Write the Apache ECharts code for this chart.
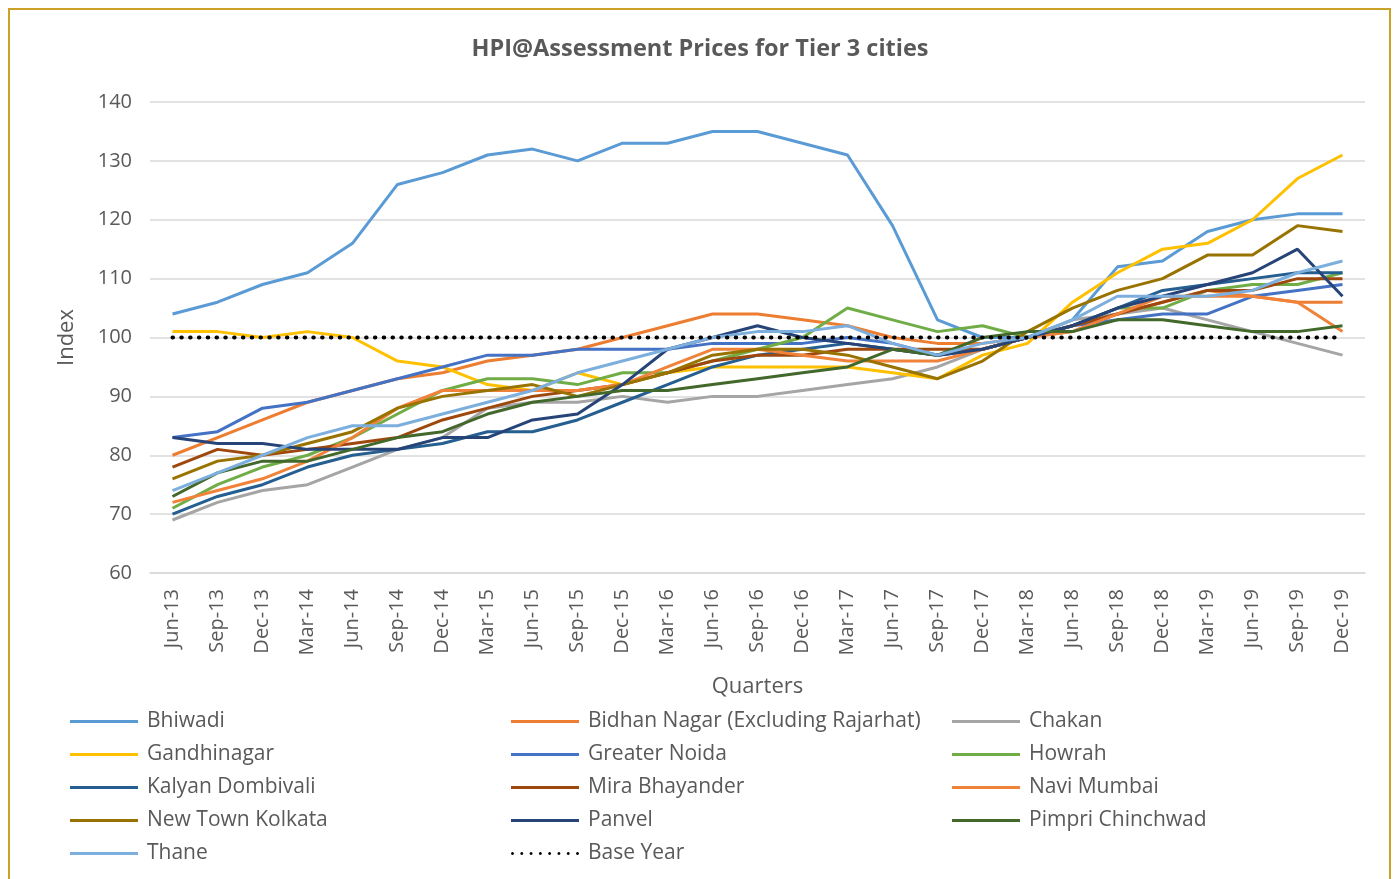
<!DOCTYPE html>
<html>
<head>
<meta charset="utf-8">
<title>HPI@Assessment Prices for Tier 3 cities</title>
<script src="https://cdn.jsdelivr.net/npm/echarts@6/dist/echarts.min.js"></script>
<style>
  html, body { margin: 0; padding: 0; background: #fff; }
  #frame { position: absolute; left: 8px; top: 8px; width: 1383px; height: 880px; border: 2px solid #C9A227; box-sizing: border-box; }
  #hpi { position: absolute; left: 0; top: 0; width: 1400px; height: 879px; }
</style>
</head>
<body>
<div id="frame"></div>
<div id="hpi"></div>
<script>
// quarters on the x axis
var quarters = ['Jun-13','Sep-13','Dec-13','Mar-14','Jun-14','Sep-14','Dec-14','Mar-15','Jun-15','Sep-15',
    'Dec-15','Mar-16','Jun-16','Sep-16','Dec-16','Mar-17','Jun-17','Sep-17','Dec-17','Mar-18',
    'Jun-18','Sep-18','Dec-18','Mar-19','Jun-19','Sep-19','Dec-19'];

// index values
var bhiwadi      = [104,106,109,111,116,126,128,131,132,130,133,133,135,135,133,131,119,103,100,100,103,112,113,118,120,121,121];
var bidhanNagar  = [80,83,86,89,91,93,94,96,97,98,100,102,104,104,103,102,100,99,99,100,101,104,106,108,107,106,106];
var chakan       = [69,72,74,75,78,81,83,88,89,89,90,89,90,90,91,92,93,95,98,100,103,104,105,103,101,99,97];
var gandhinagar  = [101,101,100,101,100,96,95,92,91,94,92,94,95,95,95,95,94,93,97,99,106,111,115,116,120,127,131];
var greaterNoida = [83,84,88,89,91,93,95,97,97,98,98,98,99,99,99,100,99,97,98,100,102,103,104,104,107,108,109];
var howrah       = [71,75,78,80,83,87,91,93,93,92,94,94,96,98,100,105,103,101,102,100,102,105,105,108,109,109,111];
var kalyan       = [70,73,75,78,80,81,82,84,84,86,89,92,95,97,98,99,98,97,98,100,102,105,108,109,110,111,111];
var miraBhayander= [78,81,80,81,82,83,86,88,90,91,92,94,96,97,97,98,98,98,98,100,102,104,106,108,108,110,110];
var naviMumbai   = [72,74,76,79,83,88,91,91,91,91,92,95,98,98,97,96,96,96,98,100,101,104,107,107,107,106,101];
var newTown      = [76,79,80,82,84,88,90,91,92,90,92,94,97,98,98,97,95,93,96,101,105,108,110,114,114,119,118];
var panvel       = [83,82,82,81,81,81,83,83,86,87,92,98,100,102,100,99,98,97,98,100,102,105,107,109,111,115,107];
var pimpri       = [73,77,79,79,81,83,84,87,89,90,91,91,92,93,94,95,98,97,100,101,101,103,103,102,101,101,102];
var thane        = [74,77,80,83,85,85,87,89,91,94,96,98,100,101,101,102,99,97,99,100,103,107,107,107,108,111,113];
var baseYear     = [100,100,100,100,100,100,100,100,100,100,100,100,100,100,100,100,100,100,100,100,100,100,100,100,100,100,100];

var myChart = echarts.init(document.getElementById('hpi'));

function city(name, data, color) {
    return {
        name: name,
        type: 'line',
        data: data,
        symbol: 'none',
        color: color,
        lineStyle: { width: 3, color: color }
    };
}

// legend icons: a plain bar for cities, a row of dots for the base year
var barIcon = 'path://M0,0h68v3h-68z';
var dotIcon = 'path://M0,1.5a1.5,1.5 0 1,0 3,0a1.5,1.5 0 1,0 -3,0';
for (var d = 1; d < 8; d++) {
    dotIcon += 'M' + (d * 9.3) + ',1.5a1.5,1.5 0 1,0 3,0a1.5,1.5 0 1,0 -3,0';
}

var legendText = { color: '#595959', fontSize: 21, fontFamily: 'Open Sans', lineHeight: 21, padding: [0, 0, 0, 4] };
function legendCol(left, names) {
    return {
        orient: 'vertical',
        left: left,
        top: 711,
        padding: 0,
        itemWidth: 68,
        itemHeight: 12,
        itemGap: 12,
        textStyle: legendText,
        data: names.map(function (n) {
            return { name: n, icon: n === 'Base Year' ? dotIcon : barIcon };
        })
    };
}

var option = {
    animation: false,
    backgroundColor: 'transparent',
    title: {
        text: 'HPI@Assessment Prices for Tier 3 cities',
        left: 'center',
        top: 32,
        textStyle: { color: '#595959', fontSize: 23.5, fontWeight: 'bold', fontFamily: 'Open Sans' }
    },
    legend: [
        legendCol(70, ['Bhiwadi', 'Gandhinagar', 'Kalyan Dombivali', 'New Town Kolkata', 'Thane']),
        legendCol(511, ['Bidhan Nagar (Excluding Rajarhat)', 'Greater Noida', 'Mira Bhayander', 'Panvel', 'Base Year']),
        legendCol(952, ['Chakan', 'Howrah', 'Navi Mumbai', 'Pimpri Chinchwad'])
    ],
    grid: { left: 150, right: 35, top: 102, bottom: 306 },
    xAxis: {
        type: 'category',
        data: quarters,
        boundaryGap: true,
        name: 'Quarters',
        nameLocation: 'middle',
        nameGap: 103,
        nameTextStyle: { color: '#595959', fontSize: 22, fontFamily: 'Open Sans' },
        axisLine: { lineStyle: { color: '#D9D9D9', width: 1.5 } },
        axisTick: { show: false },
        axisLabel: { rotate: 90, color: '#595959', fontSize: 20, fontFamily: 'Open Sans', margin: 16 }
    },
    yAxis: {
        type: 'value',
        min: 60,
        max: 140,
        interval: 10,
        name: 'Index',
        nameLocation: 'middle',
        nameGap: 72,
        nameTextStyle: { color: '#595959', fontSize: 22, fontFamily: 'Open Sans' },
        axisLine: { show: false },
        axisTick: { show: false },
        axisLabel: { color: '#595959', fontSize: 20, fontFamily: 'Open Sans', margin: 18 },
        splitLine: { lineStyle: { color: '#D9D9D9', width: 1.5 } }
    },
    series: [
        city('Bhiwadi', bhiwadi, '#5B9BD5'),
        city('Bidhan Nagar (Excluding Rajarhat)', bidhanNagar, '#ED7D31'),
        city('Chakan', chakan, '#A5A5A5'),
        city('Gandhinagar', gandhinagar, '#FFC000'),
        city('Greater Noida', greaterNoida, '#4472C4'),
        city('Howrah', howrah, '#70AD47'),
        city('Kalyan Dombivali', kalyan, '#255E91'),
        city('Mira Bhayander', miraBhayander, '#9E480E'),
        city('Navi Mumbai', naviMumbai, '#F0823A'),
        city('New Town Kolkata', newTown, '#997300'),
        city('Panvel', panvel, '#264478'),
        city('Pimpri Chinchwad', pimpri, '#43682B'),
        city('Thane', thane, '#7CAFDD'),
        {
            name: 'Base Year',
            type: 'line',
            data: baseYear,
            symbol: 'none',
            color: '#000000',
            lineStyle: { width: 4, color: '#000000', type: [0.5, 8.3], cap: 'round' }
        }
    ]
};

myChart.setOption(option);
</script>
</body>
</html>
